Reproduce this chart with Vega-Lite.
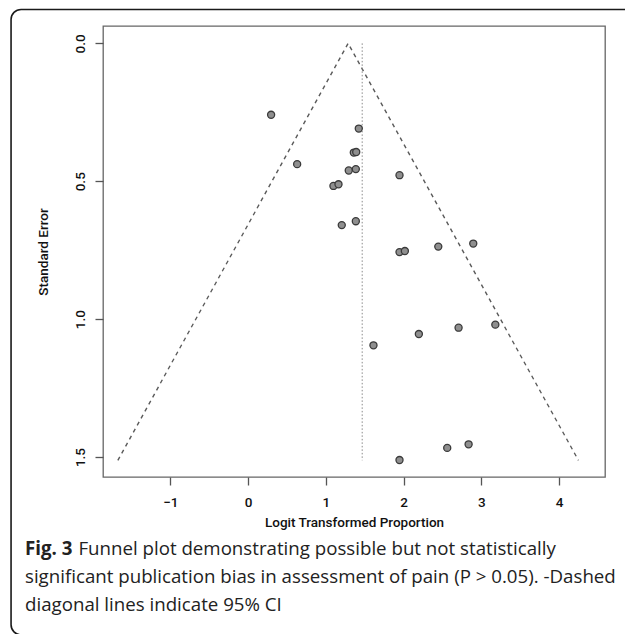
{
  "$schema": "https://vega.github.io/schema/vega-lite/v6.json",
  "autosize": {"type": "none"},
  "padding": {"left": 103, "top": 26, "right": 21, "bottom": 157},
  "width": 502,
  "height": 451,
  "background": "white",
  "datasets": {
    "studies": [
      {"x": 0.296, "se": 0.259},
      {"x": 1.424, "se": 0.309},
      {"x": 1.360, "se": 0.396},
      {"x": 1.391, "se": 0.394},
      {"x": 0.631, "se": 0.438},
      {"x": 1.295, "se": 0.461},
      {"x": 1.386, "se": 0.456},
      {"x": 1.948, "se": 0.478},
      {"x": 1.098, "se": 0.517},
      {"x": 1.163, "se": 0.511},
      {"x": 1.205, "se": 0.659},
      {"x": 1.386, "se": 0.645},
      {"x": 1.948, "se": 0.757},
      {"x": 2.017, "se": 0.753},
      {"x": 2.447, "se": 0.737},
      {"x": 2.897, "se": 0.726},
      {"x": 3.181, "se": 1.020},
      {"x": 2.708, "se": 1.031},
      {"x": 2.197, "se": 1.054},
      {"x": 1.613, "se": 1.095},
      {"x": 1.948, "se": 1.511},
      {"x": 2.562, "se": 1.467},
      {"x": 2.837, "se": 1.454}
    ],
    "funnel": [
      {"x": -1.676, "se": 1.512},
      {"x": 1.287, "se": 0},
      {"x": 4.250, "se": 1.512}
    ],
    "pooled": [
      {"x": 1.468, "se": 0, "se2": 1.512}
    ]
  },
  "title": {
    "text": "Fig. 3",
    "subtitle": [
      "\u200d\u00a0\u00a0\u00a0\u00a0\u00a0\u00a0\u00a0\u00a0\u00a0\u00a0\u00a0Funnel plot demonstrating possible but not statistically",
      "significant publication bias in assessment of pain (P > 0.05). -Dashed",
      "diagonal lines indicate 95% CI"
    ],
    "orient": "bottom",
    "anchor": "start",
    "frame": "group",
    "dx": -78,
    "offset": -95.5,
    "font": "Open Sans",
    "fontSize": 18.7,
    "fontWeight": "bold",
    "color": "#222222",
    "subtitleFont": "Open Sans",
    "subtitleFontSize": 18.7,
    "subtitleFontWeight": "normal",
    "subtitleColor": "#222222",
    "subtitleLineHeight": 28,
    "subtitlePadding": -18.7
  },
  "layer": [
    {
      "data": {"values": [{}]},
      "mark": {"type": "rect", "filled": false, "color": "#1a1a1a", "strokeWidth": 1.6, "cornerRadius": 10, "clip": false},
      "encoding": {
        "x": {
          "datum": -3.05, "type": "quantitative",
          "scale": {"domain": [-1.867, 4.592], "nice": false, "zero": false},
          "axis": {"title": "Logit Transformed Proportion", "values": [-1, 0, 1, 2, 3, 4], "format": "d", "labelPadding": 10, "titlePadding": 7, "labelFlush": false}
        },
        "x2": {"datum": 5.2},
        "y": {
          "datum": -0.123, "type": "quantitative",
          "scale": {"domain": [-0.063, 1.5725], "nice": false, "zero": false, "reverse": true},
          "axis": {"title": "Standard Error", "values": [0, 0.5, 1, 1.5], "format": ".1f", "labelAngle": 270, "labelAlign": "center", "labelBaseline": "bottom", "labelPadding": 8, "titlePadding": 23, "labelFlush": false}
        },
        "y2": {"datum": 2.145}
      }
    },
    {
      "data": {"name": "funnel"},
      "mark": {"type": "line", "color": "#5a5a5a", "strokeWidth": 1.4, "strokeDash": [4, 4]},
      "encoding": {
        "x": {
          "field": "x", "type": "quantitative",
          "scale": {"domain": [-1.867, 4.592], "nice": false, "zero": false},
          "axis": {"title": "Logit Transformed Proportion", "values": [-1, 0, 1, 2, 3, 4], "format": "d", "labelPadding": 10, "titlePadding": 7, "labelFlush": false}
        },
        "y": {
          "field": "se", "type": "quantitative",
          "scale": {"domain": [-0.063, 1.5725], "nice": false, "zero": false, "reverse": true},
          "axis": {"title": "Standard Error", "values": [0, 0.5, 1, 1.5], "format": ".1f", "labelAngle": 270, "labelAlign": "center", "labelBaseline": "bottom", "labelPadding": 8, "titlePadding": 23, "labelFlush": false}
        }
      }
    },
    {
      "data": {"name": "pooled"},
      "mark": {"type": "rule", "color": "#8a8a8a", "strokeWidth": 1, "strokeDash": [1.5, 2]},
      "encoding": {
        "x": {
          "field": "x", "type": "quantitative",
          "scale": {"domain": [-1.867, 4.592], "nice": false, "zero": false},
          "axis": {"title": "Logit Transformed Proportion", "values": [-1, 0, 1, 2, 3, 4], "format": "d", "labelPadding": 10, "titlePadding": 7, "labelFlush": false}
        },
        "y": {
          "field": "se", "type": "quantitative",
          "scale": {"domain": [-0.063, 1.5725], "nice": false, "zero": false, "reverse": true},
          "axis": {"title": "Standard Error", "values": [0, 0.5, 1, 1.5], "format": ".1f", "labelAngle": 270, "labelAlign": "center", "labelBaseline": "bottom", "labelPadding": 8, "titlePadding": 23, "labelFlush": false}
        },
        "y2": {"field": "se2"}
      }
    },
    {
      "data": {"name": "studies"},
      "mark": {"type": "point", "shape": "circle", "filled": true, "size": 50, "fill": "#8f8f8f", "stroke": "#3a3a3a", "strokeWidth": 1.3, "opacity": 1},
      "encoding": {
        "x": {
          "field": "x", "type": "quantitative",
          "scale": {"domain": [-1.867, 4.592], "nice": false, "zero": false},
          "axis": {"title": "Logit Transformed Proportion", "values": [-1, 0, 1, 2, 3, 4], "format": "d", "labelPadding": 10, "titlePadding": 7, "labelFlush": false}
        },
        "y": {
          "field": "se", "type": "quantitative",
          "scale": {"domain": [-0.063, 1.5725], "nice": false, "zero": false, "reverse": true},
          "axis": {"title": "Standard Error", "values": [0, 0.5, 1, 1.5], "format": ".1f", "labelAngle": 270, "labelAlign": "center", "labelBaseline": "bottom", "labelPadding": 8, "titlePadding": 23, "labelFlush": false}
        }
      }
    }
  ],
  "config": {
    "view": {"stroke": "#666666", "strokeWidth": 1.3},
    "axis": {
      "domain": false,
      "grid": false,
      "tickColor": "#555555",
      "tickWidth": 1.3,
      "tickSize": 8,
      "labelFont": "Roboto",
      "labelFontSize": 13.5,
      "labelFontWeight": 500,
      "labelColor": "#111111",
      "titleFont": "Roboto",
      "titleFontSize": 13.5,
      "titleFontWeight": 500,
      "titleColor": "#111111"
    }
  }
}
